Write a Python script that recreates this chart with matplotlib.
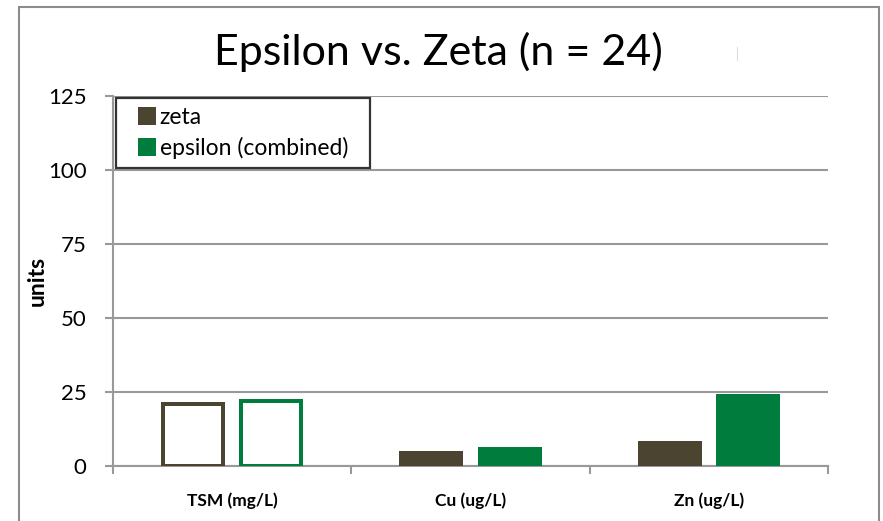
import matplotlib
matplotlib.use('Agg')
import matplotlib.pyplot as plt
from matplotlib.patches import Patch, Rectangle
from matplotlib.legend_handler import HandlerPatch
import numpy as np

plt.rcParams['font.family'] = ['Lato', 'DejaVu Sans']

categories = ['TSM (mg/L)', 'Cu (ug/L)', 'Zn (ug/L)']
zeta = [21.5, 5.2, 8.5]
epsilon = [22.5, 6.3, 24.3]
hollow = [True, False, False]  # first group drawn as outlines only
series_names = ['zeta', 'epsilon (combined)']
yticks = [0, 25, 50, 75, 100, 125]

c_zeta = '#4b4430'
c_eps = '#007d3c'
c_grid = '#999999'

fig = plt.figure(figsize=(8.83, 5.21), dpi=100)
ax = fig.add_axes([0.128, 0.1056, 0.8097, 0.7101])

# outer chart border
fig.patches.append(Rectangle((0.021, -0.1), 0.974, 1.086, transform=fig.transFigure,
                             fill=False, edgecolor='#8c8c8c', linewidth=1.5))

x = np.arange(len(categories))
w = 0.269
off = 0.164
lw_px = 4.0
for i in range(len(categories)):
    for val, dx, col in [(zeta[i], -off, c_zeta), (epsilon[i], off, c_eps)]:
        if hollow[i]:
            wd = w - lw_px / 238.0
            h = val - (lw_px / 2) / 2.96
            ax.bar(x[i] + dx, h, width=wd, facecolor='white', edgecolor=col,
                   linewidth=lw_px * 0.72, zorder=3)
        else:
            ax.bar(x[i] + dx, val, width=w, color=col, zorder=3)

ax.set_xlim(-0.5, 2.5)
ax.set_ylim(0, 125)
ax.set_yticks(yticks)
ax.set_yticklabels([str(t) for t in yticks], fontsize=16)
ax.set_xticks([-0.5, 0.5, 1.5, 2.5], minor=False)
ax.set_xticklabels([])
ax.set_xticks(x, minor=True)
ax.set_xticklabels(categories, minor=True, fontsize=12.5, fontweight='bold')
ax.tick_params(axis='x', which='minor', length=0, pad=19)
ax.tick_params(axis='x', which='major', length=6, width=1.5, color=c_grid)
ax.tick_params(axis='y', length=6, width=1.5, color=c_grid, pad=13)

ax.grid(axis='y', color=c_grid, linewidth=1.5, zorder=0)
ax.set_axisbelow(True)
for s in ['top', 'right']:
    ax.spines[s].set_visible(False)
for s in ['left', 'bottom']:
    ax.spines[s].set_color(c_grid)
    ax.spines[s].set_linewidth(1.5)

ax.set_ylabel('units', fontsize=16.5, fontweight='bold', labelpad=0)

fig.text(0.496, 0.9, 'Epsilon vs. Zeta (n = 24)', ha='center', va='center', fontsize=31)
fig.add_artist(plt.Line2D([0.835, 0.835], [0.885, 0.91], color='#dddddd', linewidth=0.8))


# square legend marker pushed to the right end of the handle area
def square(legend, orig_handle, xdescent, ydescent, width, height, fontsize):
    s = 13
    return Rectangle((width - s - xdescent, -ydescent + (height - s) / 2), s, s)


handles = [Patch(facecolor=c_zeta), Patch(facecolor=c_eps)]
leg = ax.legend(handles, series_names, loc='upper left',
                bbox_to_anchor=(0.004, 0.995, 0.355, 0.0), mode='expand',
                borderaxespad=0, fancybox=False, fontsize=16.5,
                handlelength=1.36, handleheight=0.8, handletextpad=0.15,
                labelspacing=0.4, borderpad=0.4,
                handler_map={Patch: HandlerPatch(patch_func=square)})
leg.get_frame().set_edgecolor('black')
leg.get_frame().set_linewidth(1.6)
leg.set_zorder(5)

fig.savefig('out.png', dpi=100)
